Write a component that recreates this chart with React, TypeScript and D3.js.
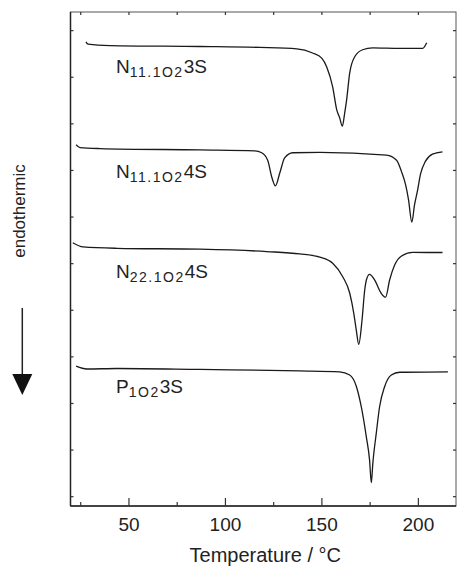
import React, { useEffect, useRef } from 'react';
import * as d3 from 'd3';

// DSC traces, temperature (°C) vs heat flow (arb. units, offset per trace)
const tempN1113S = [27.7, 28.8, 40.2, 86.7, 117.8, 137.0, 145.2, 149.9, 152.5, 155.6, 157.7, 159.2, 160.6, 161.8, 162.8, 164.4, 167.0, 171.1, 176.3, 190.3, 202.2, 204.3];
const flowN1113S = [9.76, 9.71, 9.68, 9.66, 9.64, 9.61, 9.52, 9.41, 9.22, 8.79, 8.30, 8.13, 7.95, 8.23, 8.51, 9.09, 9.44, 9.59, 9.63, 9.62, 9.62, 9.74];

const tempN1114S = [22.6, 24.6, 35.0, 86.7, 115.2, 118.8, 121.9, 124.0, 125.9, 128.2, 130.7, 134.9, 148.9, 183.5, 188.7, 191.3, 193.4, 194.9, 196.6, 198.0, 199.6, 201.1, 203.7, 207.3, 212.5];
const flowN1114S = [7.55, 7.49, 7.47, 7.44, 7.42, 7.38, 7.22, 6.86, 6.67, 6.95, 7.27, 7.38, 7.39, 7.33, 7.22, 6.97, 6.69, 6.37, 5.89, 6.26, 6.58, 6.92, 7.20, 7.35, 7.40];

const tempN2214S = [20.9, 26.2, 43.8, 86.7, 121.4, 138.5, 148.9, 155.6, 160.8, 164.4, 166.5, 167.8, 169.1, 170.8, 172.2, 173.2, 174.7, 177.3, 180.8, 183.0, 185.1, 187.7, 191.1, 197.0, 212.5];
const flowN2214S = [5.45, 5.36, 5.33, 5.31, 5.26, 5.21, 5.14, 5.01, 4.72, 4.37, 3.94, 3.58, 3.27, 3.79, 4.44, 4.67, 4.77, 4.65, 4.36, 4.28, 4.65, 4.97, 5.16, 5.24, 5.24];

const tempP13S = [22.6, 28.1, 43.8, 86.7, 138.5, 159.2, 164.4, 167.9, 170.4, 173.0, 174.7, 175.6, 176.4, 178.2, 179.9, 182.5, 186.0, 190.3, 215.3];
const flowP13S = [2.80, 2.74, 2.75, 2.73, 2.70, 2.68, 2.61, 2.36, 1.93, 1.29, 0.79, 0.30, 0.72, 1.37, 1.93, 2.36, 2.61, 2.67, 2.68];

// label: [main, subscript, tail], anchor temp, anchor flow
const sampleNames = [['N', '11.1O2', '3S'], ['N', '11.1O2', '4S'], ['N', '22.1O2', '4S'], ['P', '1O2', '3S']];
const labelTemp = [43.3, 43.3, 43.3, 43.3];
const labelFlow = [9.09, 6.84, 4.69, 2.22];

const majorTicks = [50, 100, 150, 200];
const minorTicks = [25, 75, 125, 175];
const yTicks = [0, 1, 2, 3, 4, 5, 6, 7, 8, 9, 10];

export default function App() {
    const svgRef = useRef<SVGSVGElement>(null);

    useEffect(() => {
        const svg = d3.select(svgRef.current);
        svg.selectAll('*').remove();

        const left = 70.5, right = 456, top = 12, bottom = 506;
        const x = d3.scaleLinear().domain([19.7, 219.5]).range([left, right]);
        const y = d3.scaleLinear().domain([-0.2, 10.4]).range([bottom, top]);
        const font = 'Liberation Sans, Arial, sans-serif';

        // frame
        svg.append('rect')
            .attr('x', left).attr('y', top)
            .attr('width', right - left).attr('height', bottom - top)
            .attr('fill', 'none').attr('stroke', '#555').attr('stroke-width', 1);
        svg.append('line')   //left axis is darker
            .attr('x1', left).attr('x2', left).attr('y1', top).attr('y2', bottom)
            .attr('stroke', '#222').attr('stroke-width', 1.5);
        svg.append('line')
            .attr('x1', left).attr('x2', right).attr('y1', bottom).attr('y2', bottom)
            .attr('stroke', '#222').attr('stroke-width', 1.5);

        // x ticks, inward on bottom and top
        const ticks = svg.append('g').attr('stroke', '#333').attr('stroke-width', 1.2);
        majorTicks.forEach(t => {
            ticks.append('line').attr('x1', x(t)).attr('x2', x(t)).attr('y1', bottom).attr('y2', bottom - 8);
            ticks.append('line').attr('x1', x(t)).attr('x2', x(t)).attr('y1', top).attr('y2', top + 3);
        });
        minorTicks.forEach(t => {
            ticks.append('line').attr('x1', x(t)).attr('x2', x(t)).attr('y1', bottom).attr('y2', bottom - 4);
            ticks.append('line').attr('x1', x(t)).attr('x2', x(t)).attr('y1', top).attr('y2', top + 3);
        });
        yTicks.forEach(v => {
            ticks.append('line').attr('x1', left).attr('x2', left + 3).attr('y1', y(v)).attr('y2', y(v));
            ticks.append('line').attr('x1', right).attr('x2', right - 3).attr('y1', y(v)).attr('y2', y(v));
        });

        svg.append('g')
            .selectAll('text')
            .data(majorTicks)
            .enter().append('text')
            .attr('x', d => x(d))
            .attr('y', 531)
            .attr('text-anchor', 'middle')
            .attr('font-family', font)
            .attr('font-size', 19)
            .attr('fill', '#222')
            .text(d => d);

        svg.append('text')
            .attr('x', (left + right) / 2 + 2)
            .attr('y', 562)
            .attr('text-anchor', 'middle')
            .attr('font-family', font)
            .attr('font-size', 20)
            .attr('fill', '#222')
            .text('Temperature / °C');

        // endothermic label + arrow
        svg.append('text')
            .attr('transform', 'translate(25,211) rotate(-90)')
            .attr('text-anchor', 'middle')
            .attr('font-family', font)
            .attr('font-size', 17)
            .attr('fill', '#222')
            .text('endothermic');
        svg.append('line')
            .attr('x1', 22.3).attr('x2', 22.3).attr('y1', 308).attr('y2', 376)
            .attr('stroke', '#222').attr('stroke-width', 1.5);
        svg.append('path')
            .attr('d', 'M12.3,374 L32.3,374 L22.3,395 Z')
            .attr('fill', '#111');

        // traces
        const line = d3.line<[number, number]>()
            .x(d => x(d[0]))
            .y(d => y(d[1]))
            .curve(d3.curveMonotoneX);
        const traces: [number[], number[]][] = [
            [tempN1113S, flowN1113S],
            [tempN1114S, flowN1114S],
            [tempN2214S, flowN2214S],
            [tempP13S, flowP13S]
        ];
        traces.forEach(([t, f]) => {
            svg.append('path')
                .attr('d', line(t.map((v, i) => [v, f[i]] as [number, number])))
                .attr('fill', 'none')
                .attr('stroke', '#1a1a1a')
                .attr('stroke-width', 1.3);
        });

        // sample names with subscripts
        sampleNames.forEach((nm, i) => {
            const txt = svg.append('text')
                .attr('x', x(labelTemp[i]))
                .attr('y', y(labelFlow[i]))
                .attr('font-family', font)
                .attr('font-size', 19)
                .attr('fill', '#222');
            txt.append('tspan').text(nm[0]);
            txt.append('tspan')
                .attr('font-size', 14)
                .attr('dy', 4)
                .attr('letter-spacing', 1.5)
                .text(nm[1]);
            txt.append('tspan')
                .attr('dy', -4)
                .text(nm[2]);
        });
    }, []);

    return (
        <div style={{ position: 'absolute', left: 0, top: 0 }}>
            <svg ref={svgRef} width={457} height={568}></svg>
        </div>
    );
}
